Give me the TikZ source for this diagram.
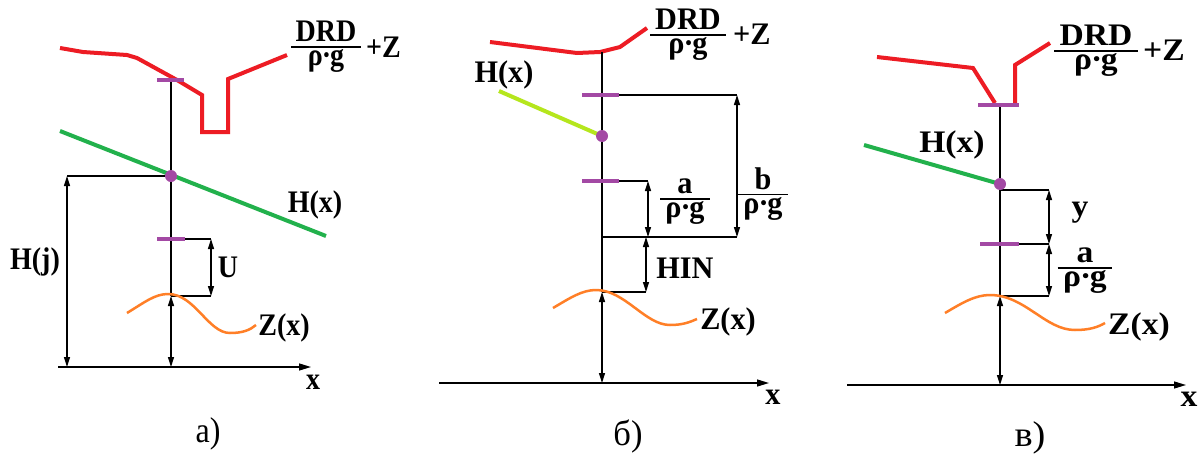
\documentclass[tikz,border=0pt]{standalone}
\usepackage{fontspec}
\usepackage{graphicx}
\setmainfont{Liberation Serif}
\usetikzlibrary{arrows.meta}
\definecolor{cred}{RGB}{237,28,36}
\definecolor{cgreen}{RGB}{34,177,76}
\definecolor{clime}{RGB}{181,230,29}
\definecolor{corange}{RGB}{255,127,39}
\definecolor{cpurple}{RGB}{163,73,164}
\setlength\arrayrulewidth{1.4pt}
\renewcommand\arraystretch{0.3}
\def\hs{1}
\newcommand\vs[1]{\scalebox{\hs}[1.12]{#1}}
\newcommand\rg{ρ\kern-1pt·\kern-1pt g}
\newcommand\myfr[2]{\vs{\begin{tabular}{@{\,}c@{\,}}\rule[-4pt]{0pt}{0pt}#1\\\hline\rule{0pt}{16pt}#2\end{tabular}}}
\begin{document}
\begin{tikzpicture}[x=1pt,y=-1pt,
  redl/.style={draw=cred,line width=4pt,line join=miter},
  greenl/.style={draw=cgreen,line width=4pt},
  limel/.style={draw=clime,line width=4pt},
  zc/.style={draw=corange,line width=2.5pt},
  ptick/.style={draw=cpurple,line width=4pt},
  dim/.style={draw=black,line width=1.3pt},
  dimarr/.style={dim,{Triangle[width=6pt,length=10pt]}-{Triangle[width=6pt,length=10pt]}},
  axis/.style={dim,-{Triangle[width=7pt,length=12pt]}},
  lbl/.style={font=\fontsize{28}{30}\bfseries\selectfont,inner sep=0pt},
  capt/.style={font=\fontsize{32}{36}\selectfont,inner sep=0pt},
  dotst/.style={circle,fill=cpurple,inner sep=0pt,minimum size=12pt}]
\useasboundingbox (0,0) rectangle (1200,453);
\fill[white] (0,0) rectangle (1200,453);

% ---------- panel a ----------
\def\hs{1}
\draw[redl] (60,48) -- (83,52) -- (127,55) -- (137,58) -- (177,80) -- (202,95) -- (202,132) -- (228,132) -- (228,79) -- (287,55);
\draw[greenl] (60,131) -- (326,236);
\coordinate (aT) at (171,80);
\coordinate (aH) at (171,176);
\coordinate (aZ) at (171,296);
\coordinate (aO) at (171,367);
\coordinate (aHj1) at (67,176);
\coordinate (aHj0) at (67,367);
\coordinate (aU0) at (185,239);
\coordinate (aU1) at (211,239);
\coordinate (aU2) at (211,296);
\coordinate (aX0) at (58,367);
\coordinate (aX1) at (311,367);
\draw[dim] (aT) -- (aZ);
\draw[dimarr] (aZ) -- (aO);
\draw[dim] (aHj1) -- (aH);
\draw[dimarr] (aHj1) -- (aHj0);
\draw[dim] (aU0) -- (aU1);
\draw[dimarr] (aU1) -- (aU2);
\draw[dim] (aU2) -- (aZ);
\draw[axis] (aX0) -- (aX1);
\draw[zc] (127,313) .. controls (145,302) and (155,294) .. (168,294) .. controls (195,294) and (208,333) .. (230,333) .. controls (243,333) and (250,330) .. (256,325);
\draw[ptick] (157,80) -- (184,80);
\draw[ptick] (157,239) -- (185,239);
\node[dotst] (aD) at (aH) {};
\node[lbl] (aDRD) at (326,47) {\myfr{DRD}{\rg}};
\node[lbl,anchor=base west] (aPZ) at (366,57) {\vs{+Z}};
\node[lbl] (aHx) at (315,205) {\vs{H(x)}};
\node[lbl] (aHj) at (35,262) {\vs{H(j)}};
\node[lbl] (aUl) at (228,267) {\vs{U}};
\node[lbl] (aZx) at (284,328) {\vs{Z(x)}};
\node[lbl] (axl) at (313,382) {\vs{x}};
\node[capt] (acap) at (208,434) {\vs{a)}};

% ---------- panel b ----------
\def\hs{1.08}
\draw[redl] (490,42) -- (577,53) -- (600,52) -- (620,47) -- (647,28);
\draw[limel] (499,91) -- (602,136);
\coordinate (bT) at (602,52);
\coordinate (bH) at (602,136);
\coordinate (bB) at (602,237);
\coordinate (bZ) at (602,292);
\coordinate (bO) at (602,383);
\coordinate (bb0) at (619,95);
\coordinate (bb1) at (737,95);
\coordinate (bb2) at (737,237);
\coordinate (ba0) at (619,181);
\coordinate (ba1) at (648,181);
\coordinate (ba2) at (648,237);
\coordinate (bh1) at (646,237);
\coordinate (bh2) at (646,292);
\coordinate (bX0) at (439,383);
\coordinate (bX1) at (769,383);
\draw[dim] (bT) -- (bZ);
\draw[dimarr] (bZ) -- (bO);
\draw[dim] (bb0) -- (bb1);
\draw[dimarr] (bb1) -- (bb2);
\draw[dim] (bb2) -- (bB);
\draw[dim] (ba0) -- (ba1);
\draw[dimarr] (ba1) -- (ba2);
\draw[dimarr] (bh1) -- (bh2);
\draw[dim] (bh2) -- (bZ);
\draw[axis] (bX0) -- (bX1);
\draw[zc] (553,308) .. controls (570,298) and (582,290) .. (596,290) .. controls (625,290) and (645,325) .. (670,325) .. controls (683,325) and (690,322) .. (697,319);
\draw[ptick] (582,95) -- (619,95);
\draw[ptick] (582,181) -- (619,181);
\node[dotst] (bD) at (bH) {};
\node[lbl] (bDRD) at (688,35) {\myfr{DRD}{\rg}};
\node[lbl,anchor=base west] (bPZ) at (733,44) {\vs{+Z}};
\node[lbl] (bHx) at (504,75) {\vs{H(x)}};
\node[lbl] (bAf) at (685,202) {\myfr{a}{\rg}};
\node[lbl] (bBf) at (763,194) {\myfr{b}{\rg}};
\node[lbl] (bHIN) at (685,268) {\vs{HIN}};
\node[lbl] (bZx) at (728,322) {\vs{Z(x)}};
\node[lbl] (bxl) at (773,397) {\vs{x}};
\node[capt] (bcap) at (628,436) {\vs{б)}};

% ---------- panel c ----------
\def\hs{1.2}
\draw[redl] (877,57) -- (973,68) -- (995,103);
\draw[redl] (1015,103) -- (1015,65) -- (1050,43);
\draw[greenl] (864,145) -- (1000,184);
\coordinate (cT) at (1000,105);
\coordinate (cH) at (1000,184);
\coordinate (cHy) at (1000,190);
\coordinate (cZ) at (1000,296);
\coordinate (cO) at (1000,385);
\coordinate (ct0) at (1019,244);
\coordinate (cy1) at (1049,190);
\coordinate (cy2) at (1049,244);
\coordinate (ca2) at (1049,296);
\coordinate (cX0) at (847,385);
\coordinate (cX1) at (1186,385);
\draw[dim] (cT) -- (cZ);
\draw[dimarr] (cZ) -- (cO);
\draw[dim] (cHy) -- (cy1);
\draw[dimarr] (cy1) -- (cy2);
\draw[dim] (ct0) -- (cy2);
\draw[dimarr] (cy2) -- (ca2);
\draw[dim] (ca2) -- (cZ);
\draw[axis] (cX0) -- (cX1);
\draw[zc] (945,313) .. controls (962,303) and (975,295) .. (990,295) .. controls (1025,295) and (1045,330) .. (1075,330) .. controls (1090,330) and (1098,327) .. (1105,323);
\draw[ptick] (978,105) -- (1019,105);
\draw[ptick] (980,244) -- (1019,244);
\node[dotst] (cD) at (cH) {};
\node[lbl] (cDRD) at (1096,51) {\myfr{DRD}{\rg}};
\node[lbl,anchor=base west] (cPZ) at (1143,60) {\vs{+Z}};
\node[lbl] (cHx) at (952,145) {\vs{H(x)}};
\node[lbl] (cyl) at (1080,213) {\vs{y}};
\node[lbl] (cAf) at (1085,271) {\myfr{a}{\rg}};
\node[lbl] (cZx) at (1139,327) {\vs{Z(x)}};
\node[lbl] (cxl) at (1189,399) {\vs{x}};
\node[capt] (ccap) at (1030,438) {\vs{в)}};
\end{tikzpicture}
\end{document}
